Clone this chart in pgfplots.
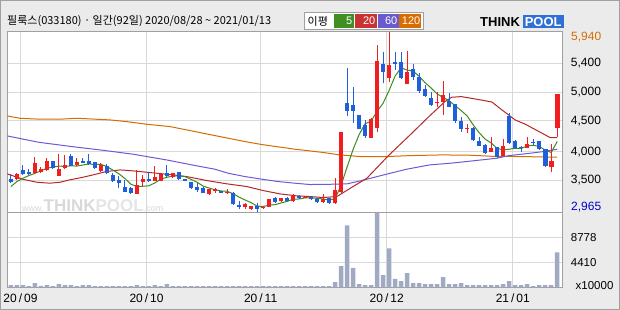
\documentclass[border=0pt]{standalone}
\usepackage{pgfplots}
\pgfplotsset{compat=1.18}
\usepackage{pgfplotstable}
\usepackage{fontspec}
\setmainfont{Liberation Sans}
\newfontfamily\kr{Noto Sans CJK KR}
\definecolor{bg}{HTML}{EBEBEB}
\definecolor{framec}{HTML}{A0A0A0}
\definecolor{gridc}{HTML}{D9D9D9}
\definecolor{upc}{HTML}{F01E1E}
\definecolor{dnc}{HTML}{1F5FDC}
\definecolor{maA}{HTML}{3C8C1E}
\definecolor{maB}{HTML}{B42828}
\definecolor{maC}{HTML}{6E5AD7}
\definecolor{maD}{HTML}{D26E00}
\definecolor{volc}{HTML}{A0AAC3}
\definecolor{lgA}{HTML}{3F8F22}
\definecolor{lgB}{HTML}{C83232}
\definecolor{lgC}{HTML}{6A5ACD}
\definecolor{lgD}{HTML}{D96C00}
\definecolor{logob}{HTML}{2F6FD6}

\pgfplotstableread{
i o h l c
1 3524 3623 3503 3601
4 3612 3887 3601 3777
5 3640 3722 3612 3684
6 3667 3870 3656 3815
8 3574 3931 3574 3678
9 3706 3914 3678 3750
11 3750 3870 3733 3793
15 3651 3777 3640 3750
21 3266 3667 3266 3420
22 3475 3585 3393 3519
24 3486 3733 3486 3557
25 3492 3596 3492 3596
27 3557 3623 3530 3612
33 3266 3360 3255 3349
34 3316 3371 3294 3349
36 3283 3349 3272 3310
39 3052 3118 3019 3102
40 3025 3074 3008 3080
42 3036 3074 3025 3063
43 3052 3184 3052 3184
45 3162 3212 3146 3201
47 3162 3272 3146 3245
49 3201 3228 3201 3228
52 3135 3266 3129 3190
54 3118 3530 3102 3338
55 3310 4288 3283 4288
60 4200 4518 4200 4507
61 4364 5726 4299 5462
63 5188 5940 5122 5402
66 5078 5627 5078 5276
71 4776 4957 4699 4793
72 4793 5133 4568 4902
76 4342 4419 4282 4353
80 3969 4205 3969 4035
82 3903 4178 3903 4062
86 4024 4205 4024 4095
90 3722 4095 3640 3815
91 4353 4913 4216 4913
}\up

\pgfplotstableread{
i o h l c
0 3513 3596 3448 3475
2 3667 3750 3590 3596
3 3640 3678 3585 3601
7 3815 3815 3689 3695
10 3898 3931 3733 3733
12 3815 3870 3777 3788
13 3815 3931 3750 3766
14 3793 3793 3689 3695
16 3733 3766 3601 3612
17 3585 3612 3475 3492
18 3503 3574 3365 3459
19 3393 3503 3299 3310
20 3365 3393 3272 3283
23 3519 3612 3475 3492
26 3612 3750 3557 3568
28 3629 3640 3503 3513
29 3519 3519 3486 3486
30 3475 3475 3360 3376
31 3393 3448 3310 3338
32 3376 3393 3283 3294
35 3321 3321 3283 3283
37 3294 3310 3091 3102
38 3085 3162 3019 3063
41 3074 3129 2965 3025
44 3212 3228 3118 3135
46 3212 3228 3157 3157
48 3245 3255 3184 3201
50 3217 3239 3173 3184
51 3190 3201 3129 3135
53 3201 3212 3102 3118
56 4776 5353 4557 4639
57 4738 5040 4447 4639
58 4573 4573 4337 4342
59 4408 4491 4200 4227
62 5418 5616 5095 5287
64 5446 5616 5314 5418
65 5446 5616 5160 5177
67 5331 5408 5150 5204
68 5204 5259 4930 4974
69 5001 5067 4875 4891
70 4848 4957 4721 4738
73 4804 4941 4699 4710
74 4749 4749 4436 4480
75 4474 4546 4299 4342
77 4364 4381 4150 4161
78 4150 4216 4063 4068
79 4079 4095 3931 3942
81 4041 4052 3870 3887
83 4557 4601 4095 4107
84 4145 4161 4008 4024
85 4041 4068 3969 4024
87 4134 4178 4079 4117
88 4145 4145 3997 4008
89 4008 4008 3722 3733
}\down

\pgfplotstableread{
i v
0 3393
1 3475
2 3530
3 3574
4 3610
5 3652
6 3695
7 3714
8 3730
9 3724
10 3734
11 3730
12 3748
13 3766
14 3755
15 3758
16 3722
17 3663
18 3602
19 3525
20 3431
21 3393
22 3398
23 3405
24 3454
25 3517
26 3546
27 3565
28 3569
29 3555
30 3511
31 3465
32 3401
33 3369
34 3339
35 3320
36 3315
37 3276
38 3219
39 3172
40 3128
41 3071
42 3063
43 3087
44 3094
45 3122
46 3148
47 3184
48 3188
49 3206
50 3203
51 3199
52 3188
53 3171
54 3193
55 3414
56 3715
57 4004
58 4249
59 4427
60 4471
61 4635
62 4765
63 4977
64 5215
65 5349
66 5312
67 5295
68 5210
69 5104
70 5017
71 4920
72 4860
73 4807
74 4725
75 4645
76 4557
77 4409
78 4281
79 4173
80 4112
81 4019
82 3999
83 4007
84 4023
85 4021
86 4062
87 4073
88 4054
89 3995
90 3954
91 4136
}\maFive

\pgfplotstableread{
i v
-0.6 3601
2 3513
4.3 3464
6.5 3448
8.2 3464
9.8 3503
12 3546
13.7 3585
15.9 3640
18.2 3667
20.4 3651
23.2 3623
27 3585
29.3 3557
32.6 3492
36 3437
39.3 3393
42 3327
44.8 3272
47.6 3239
49.8 3228
52 3212
54.3 3228
57 3393
59.3 3530
63 3914
66.5 4244
69.8 4562
72.3 4793
73.4 4864
75 4875
77.3 4837
80.1 4787
81.8 4655
84 4491
85.7 4419
88.7 4260
89.8 4200
91 4200
}\maTwenty

\pgfplotstableread{
i v
-0.6 4227
4.6 4123
10.1 4052
15.7 3986
20.4 3925
25.9 3832
30.7 3739
34 3678
36.2 3612
39 3557
41.8 3514
44.5 3475
47.3 3448
49.8 3426
53.7 3431
56 3437
58.2 3486
61 3557
63.2 3612
65.9 3678
69.8 3750
73.2 3777
75.9 3805
80.9 3859
83 3903
86.5 3942
88.7 3969
91 4008
}\maSixty

\pgfplotstableread{
i v
-0.6 4557
1.5 4518
5 4502
8 4502
11 4518
16.5 4491
19.3 4463
22.6 4419
26.5 4381
29.3 4326
32.6 4260
36.2 4189
39 4134
41.8 4085
44.6 4046
47.3 4008
49.3 3986
52.1 3953
54.8 3914
58.2 3887
62.6 3887
66.6 3903
71.8 3914
76.5 3909
80 3892
85 3887
91 3876
}\maOneTwenty

\pgfplotstableread{
i v
0 410
1 410
2 410
3 234
4 760
5 293
6 410
7 234
8 585
9 410
10 410
11 234
12 410
13 410
14 234
15 234
16 234
17 234
18 234
19 234
20 234
21 410
22 234
23 234
24 410
25 234
26 585
27 234
28 234
29 234
30 234
31 234
32 234
33 234
34 234
35 234
36 234
37 234
38 234
39 234
40 234
41 234
42 234
43 234
44 234
45 234
46 234
47 234
48 234
49 234
50 234
51 234
52 234
53 234
54 936
55 3744
56 10940
57 3452
58 585
59 410
60 410
61 13150
62 2165
63 6900
64 1521
65 1112
66 2516
67 760
68 760
69 585
70 585
71 585
72 1814
73 585
74 585
75 760
76 410
77 410
78 410
79 410
80 410
81 410
82 585
83 1112
84 410
85 410
86 585
87 234
88 410
89 410
90 410
91 6200
}\vol

\begin{document}
\begin{tikzpicture}[x=1pt,y=1pt]
\fill[bg] (0,0) rectangle (620,310);
\draw[framec, line width=1pt] (0.5,0.5) rectangle (619.5,309.5);
\fill[white] (7.3,22.5) rectangle (562,278);
% watermark
\node[anchor=west, inner sep=0pt, text=gray!30] at (22,104.5)
  {{\fontsize{9}{9}\selectfont www.}{\bfseries\fontsize{17}{17}\selectfont THINK\textcolor{gray!20}{POOL}}{\fontsize{9}{9}\selectfont .com}};

% price panel
\begin{axis}[
  at={(7.3pt,97.5pt)}, anchor=south west, scale only axis,
  width=554.7pt, height=180.5pt,
  xmin=-0.6, xmax=91.8, ymin=2965, ymax=5940,
  axis line style={draw=framec, line width=1pt},
  xtick={1.6,22.6,41.6,62.6,83.6}, xticklabels={},
  ytick={3501,3969,4474,4946,5424},
  yticklabels={{3,500},{4,000},{4,500},{5,000},{5,400}},
  yticklabel pos=right,
  grid=major, grid style={draw=gridc, line width=0.9pt},
  major tick length=0pt,
  yticklabel style={anchor=west, inner sep=0pt, xshift=8.7pt, font=\fontsize{12}{12}\selectfont},
  candle/.style={draw=none, mark=none, error bars/.cd, y dir=plus, y explicit, error mark=none},
]
\addplot[maD, line width=1pt] table[x=i,y=v] {\maOneTwenty};
\addplot[maC, line width=1pt] table[x=i,y=v] {\maSixty};
\addplot[maB, line width=1pt] table[x=i,y=v] {\maTwenty};
\addplot[maA, line width=1pt] table[x=i,y=v] {\maFive};
% wicks
\addplot[candle, error bar style={draw=upc, line width=1pt}]
  table[x=i, y=l, y error expr=\thisrow{h}-\thisrow{l}] {\up};
\addplot[candle, error bar style={draw=dnc, line width=1pt}]
  table[x=i, y=l, y error expr=\thisrow{h}-\thisrow{l}] {\down};
% bodies
\addplot[candle, error bar style={draw=upc, line width=4.6pt}]
  table[x=i, y=o, y error expr=\thisrow{c}-\thisrow{o}] {\up};
\addplot[candle, error bar style={draw=dnc, line width=4.6pt}]
  table[x=i, y=c, y error expr=\thisrow{o}-\thisrow{c}] {\down};
\end{axis}

% volume panel
\begin{axis}[
  at={(7.3pt,22.5pt)}, anchor=south west, scale only axis,
  width=554.7pt, height=75pt,
  xmin=-0.6, xmax=91.8, ymin=0, ymax=13200,
  axis line style={draw=framec, line width=1pt},
  xtick={1.6,22.6,41.6,62.6,83.6},
  xticklabels={{20\,/\,09},{20\,/\,10},{20\,/\,11},{20\,/\,12},{21\,/\,01}},
  xticklabel style={anchor=center, inner sep=0pt, yshift=-11pt, font=\fontsize{12}{12}\selectfont},
  ytick={4410,8778}, yticklabels={4410,8778},
  scaled y ticks=false,
  yticklabel pos=right,
  grid=major, grid style={draw=gridc, line width=0.9pt},
  major tick length=0pt,
  yticklabel style={anchor=west, inner sep=0pt, xshift=8.7pt, font=\fontsize{11.5}{12}\selectfont},
]
\addplot[ybar, bar width=4.5pt, bar shift=0pt, fill=volc, draw=none] table[x=i,y=v] {\vol};
\end{axis}

% right extra labels
\node[anchor=west, inner sep=0pt, text=maD, font=\fontsize{12}{12}\selectfont] at (571,272.7) {5,940};
\node[anchor=west, inner sep=0pt, text=blue!80!black, font=\fontsize{12}{12}\selectfont] at (571,103.3) {2,965};
\node[anchor=west, inner sep=0pt, font=\fontsize{11.5}{12}\selectfont] at (575.5,24) {x10000};

% title
\node[anchor=west, inner sep=0pt, font=\kr\fontsize{11}{11}\selectfont] at (7,289)
  {필룩스(033180) · 일간(92일) 2020/08/28 \textasciitilde{} 2021/01/13};
% legend
\draw[framec, fill=white] (303.7,280.7) rectangle (423,297.3);
\node[anchor=west, inner sep=0pt, font=\kr\fontsize{11}{11}\selectfont] at (307.5,289) {이평};
\fill[lgA] (334,282.3) rectangle (354,295.7);
\fill[lgB] (355,282.3) rectangle (377,295.7);
\fill[lgC] (377.6,282.3) rectangle (398.6,295.7);
\fill[lgD] (399.4,282.3) rectangle (421,295.7);
\node[anchor=east, inner sep=0pt, text=white, font=\fontsize{11}{11}\selectfont] at (352.5,289) {5};
\node[anchor=east, inner sep=0pt, text=white, font=\fontsize{11}{11}\selectfont] at (375.5,289) {20};
\node[anchor=east, inner sep=0pt, text=white, font=\fontsize{11}{11}\selectfont] at (397.5,289) {60};
\node[anchor=east, inner sep=0pt, text=white, font=\fontsize{11}{11}\selectfont] at (420.5,289) {120};
% logo
\node[anchor=west, inner sep=0pt, font=\bfseries\fontsize{13}{13}\selectfont] at (480,288) {THINK};
\fill[logob] (522.5,281.5) rectangle (564,294.5);
\node[anchor=center, inner sep=0pt, text=white, font=\bfseries\fontsize{13}{13}\selectfont] at (543.2,288) {POOL};
\end{tikzpicture}
\end{document}
